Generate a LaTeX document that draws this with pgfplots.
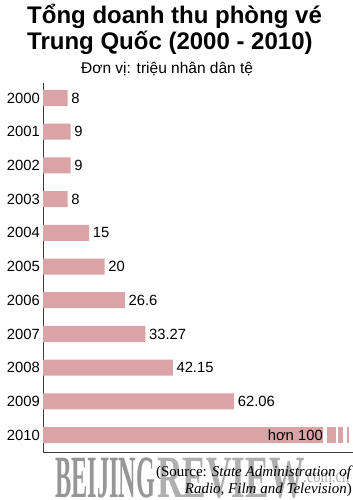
\documentclass[border=0pt]{standalone}
\usepackage{pgfplots}
\pgfplotsset{compat=1.18}
\usepackage{pgfplotstable}
\usepackage{fontspec}
\setmainfont{Liberation Sans}
\newfontfamily\serif{Liberation Serif}
\definecolor{barpink}{RGB}{218,163,166}
\definecolor{axisgray}{RGB}{60,60,60}
\definecolor{wm}{RGB}{150,150,150}
\definecolor{wmlight}{RGB}{175,175,175}

\pgfplotstableread{
y val lab
10 8 8
9 9 9
8 9 9
7 8 8
6 15 15
5 20 20
4 26.6 26.6
3 33.27 33.27
2 42.15 42.15
1 62.06 62.06
0 90.9 {}
}\mytable

\begin{document}
\begin{tikzpicture}
\useasboundingbox (0,0) rectangle (353bp,-500bp);
% titles
\node[anchor=base west, inner sep=0pt] at (27bp,-23bp) {\fontsize{24bp}{28bp}\selectfont\bfseries Tổng doanh thu phòng vé};
\node[anchor=base west, inner sep=0pt] at (27bp,-49.5bp) {\fontsize{24bp}{28bp}\selectfont\bfseries Trung Quốc (2000 - 2010)};
\node[anchor=base west, inner sep=0pt] at (81bp,-73bp) {\fontsize{15.5bp}{18bp}\selectfont Đơn vị: triệu nhân dân tệ};
% watermark
\node[anchor=base west, inner sep=0pt, text=wm] at (55bp,-497bp) {\scalebox{0.405}[1]{\fontsize{60bp}{60bp}\selectfont\serif\bfseries BEIJING}};
\node[anchor=base west, inner sep=0pt, text=wmlight] at (157bp,-497bp) {\scalebox{0.59}[1]{\fontsize{60bp}{60bp}\selectfont\serif\bfseries REVIEW}};
\node[anchor=base west, inner sep=0pt, text=wmlight] at (303bp,-482bp) {\scalebox{0.73}[1]{\fontsize{20bp}{20bp}\selectfont\serif .com.cn}};
% source
\node[anchor=base east, inner sep=0pt] at (353bp,-476bp) {\fontsize{15bp}{18bp}\selectfont\serif (Source: \textit{State Administration of}};
\node[anchor=base east, inner sep=0pt] at (352bp,-493bp) {\fontsize{15bp}{18bp}\selectfont\serif \textit{Radio, Film and Television})};
\begin{axis}[
  at={(43bp,-452bp)}, anchor=south west,
  scale only axis, width=310bp, height=369bp,
  xmin=0, xmax=100.65, ymin=-0.504, ymax=10.445,
  xbar, bar shift=0pt, bar width=16bp,
  axis x line=bottom, axis y line=left,
  axis line style={axisgray, line width=0.9bp, -},
  xtick=\empty,
  ytick={0,1,2,3,4,5,6,7,8,9,10},
  yticklabels={2010,2009,2008,2007,2006,2005,2004,2003,2002,2001,2000},
  major tick length=0pt, tick style={draw=none},
  /pgf/number format/assume math mode=true,
  yticklabel style={font=\fontsize{14.8bp}{17bp}\selectfont, inner sep=0pt, xshift=-3bp},
  clip=false,
]
\addplot[fill=barpink, draw=none] coordinates {(99.4,0)};
\addplot[fill=white, draw=none] coordinates {(98.7,0)};
\addplot[fill=barpink, draw=none] coordinates {(97.4,0)};
\addplot[fill=white, draw=none] coordinates {(95.8,0)};
\addplot[fill=barpink, draw=none] coordinates {(95.1,0)};
\addplot[fill=white, draw=none] coordinates {(92.2,0)};
\addplot[fill=barpink, draw=none,
  nodes near coords, point meta=explicit symbolic,
  nodes near coords style={anchor=west, inner sep=0pt, xshift=3.5bp, font=\fontsize{14.8bp}{17bp}\selectfont, text=black}]
  table[x=val, y=y, meta=lab] {\mytable};
\node[anchor=east, inner sep=0pt, font=\fontsize{14.8bp}{17bp}\selectfont] at (axis cs:90.9,0) {hơn 100\hspace{4bp}};
\end{axis}
\end{tikzpicture}
\end{document}
